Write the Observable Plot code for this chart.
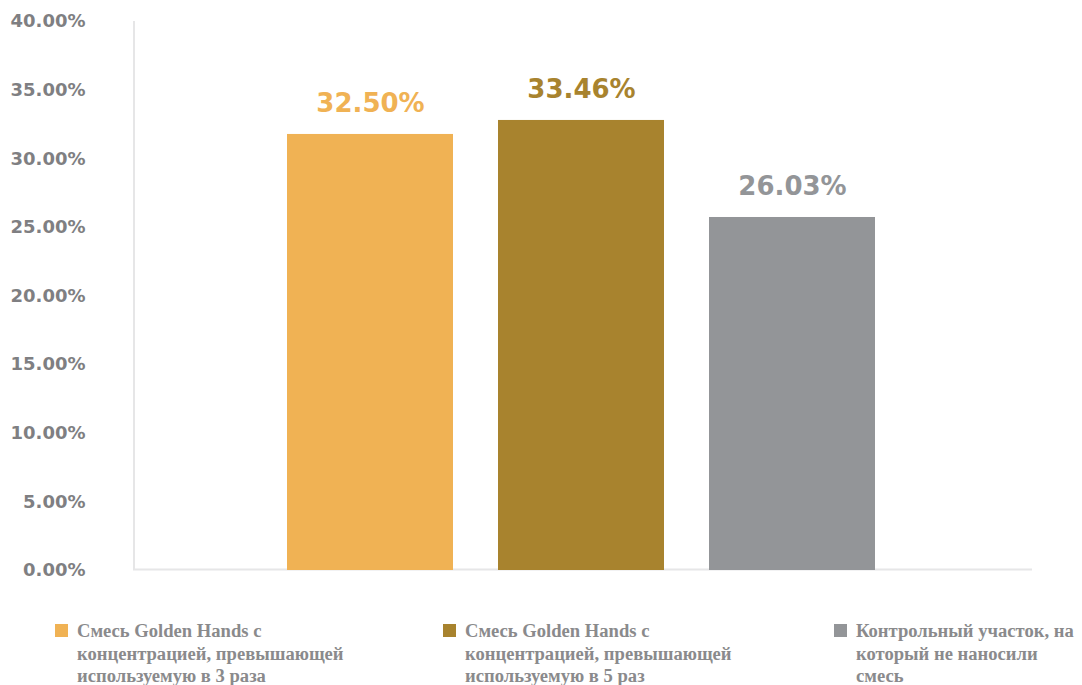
<!DOCTYPE html>
<html>
<head>
<meta charset="utf-8">
<script src="https://cdn.jsdelivr.net/npm/d3@7"></script>
<script src="https://cdn.jsdelivr.net/npm/@observablehq/plot@0.6"></script>
<style>
  html, body { margin: 0; padding: 0; background: #fff; }
  #wrap { position: relative; width: 1082px; height: 685px; overflow: hidden; }
  #chart { position: absolute; left: 0; top: 0; }
  .legend-item { position: absolute; top: 620px; display: flex; align-items: flex-start;
    font-family: "Liberation Serif", serif; font-weight: bold; font-size: 18.6px; line-height: 22.5px; color: #8a8a8c; }
  .legend-item .sw { width: 13px; height: 13px; margin-top: 4px; margin-right: 9px; flex: none; }
</style>
</head>
<body>
<div id="wrap"><div id="chart"></div></div>
<script>
const series = [
  "Смесь Golden Hands с концентрацией, превышающей используемую в 3 раза",
  "Смесь Golden Hands с концентрацией, превышающей используемую в 5 раз",
  "Контрольный участок, на который не наносили смесь"
];
const barValues = [31.77, 32.79, 25.72];
const labelTexts = ["32.50%", "33.46%", "26.03%"];
const colors = ["#F0B254", "#A8832E", "#939598"];
const yTicks = [0, 5, 10, 15, 20, 25, 30, 35, 40];

const legendLeft = [55, 443, 834];
const legendTextWidth = [290, 290, 225];

const data = series.map((s, i) => ({name: s, value: barValues[i], label: labelTexts[i], color: colors[i]}));

const axisLine = (index, scales, values, dims) => {
  const ns = "http://www.w3.org/2000/svg";
  const l = document.createElementNS(ns, "line");
  l.setAttribute("x1", dims.marginLeft + 1);
  l.setAttribute("x2", dims.marginLeft + 1);
  l.setAttribute("y1", scales.y(40));
  l.setAttribute("y2", scales.y(0));
  l.setAttribute("stroke", "#e6e6e7");
  l.setAttribute("stroke-width", 2);
  return l;
};

const chart = Plot.plot({
  width: 1082,
  height: 600,
  marginTop: 21,
  marginBottom: 30,
  marginLeft: 133,
  marginRight: 50,
  style: {background: "#fff", fontFamily: "DejaVu Sans"},
  x: {domain: series, range: [286, 875], paddingInner: 0.215, paddingOuter: 0, axis: null},
  y: {domain: [0, 40], axis: null},
  marks: [
    axisLine,
    Plot.ruleY([0], {stroke: "#e6e6e7", strokeWidth: 2, dy: -1}),
    Plot.barY(data, {x: "name", y: "value", fill: "color"}),
    Plot.axisY({ticks: yTicks, tickSize: 0, tickPadding: 48, tickFormat: d => d.toFixed(2) + "%",
      label: null, fontSize: 18, fontWeight: "bold", fill: "#7f7f82"}),
    Plot.text(data, {x: "name", y: "value", text: "label", fill: "color", dy: -31,
      fontSize: 26, fontWeight: "bold"})
  ]
});
document.getElementById("chart").appendChild(chart);

const wrap = document.getElementById("wrap");
series.forEach((s, i) => {
  const item = document.createElement("div");
  item.className = "legend-item";
  item.style.left = legendLeft[i] + "px";
  const sw = document.createElement("div");
  sw.className = "sw";
  sw.style.background = colors[i];
  const t = document.createElement("div");
  t.style.width = legendTextWidth[i] + "px";
  t.textContent = s;
  item.appendChild(sw);
  item.appendChild(t);
  wrap.appendChild(item);
});
</script>
</body>
</html>
